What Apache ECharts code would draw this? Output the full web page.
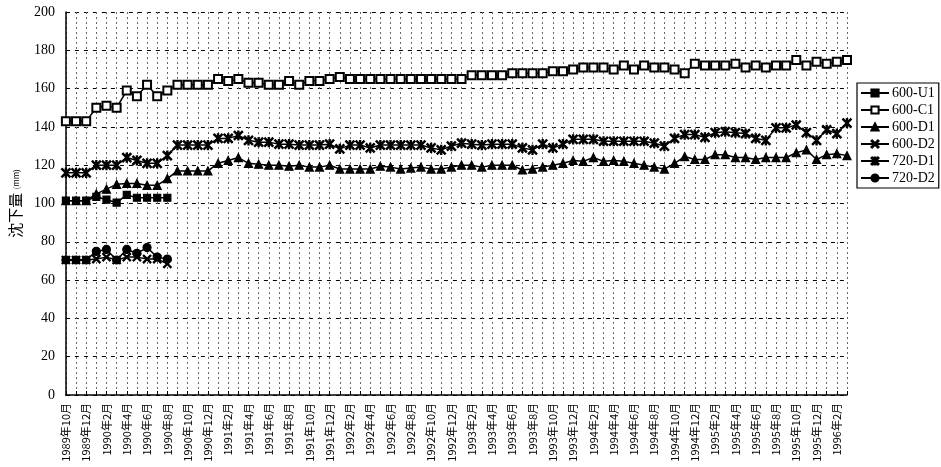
<!DOCTYPE html>
<html><head><meta charset="utf-8">
<script src="https://cdn.jsdelivr.net/npm/echarts@6/dist/echarts.min.js"></script>
<style>html,body{margin:0;padding:0;background:#fff}#c{width:941px;height:467px}</style>
</head><body><div id="c"></div>
<script>
const categories = [
'1989年10月','1989年11月','1989年12月',
'1990年1月','1990年2月','1990年3月','1990年4月','1990年5月','1990年6月','1990年7月','1990年8月','1990年9月','1990年10月','1990年11月','1990年12月',
'1991年1月','1991年2月','1991年3月','1991年4月','1991年5月','1991年6月','1991年7月','1991年8月','1991年9月','1991年10月','1991年11月','1991年12月',
'1992年1月','1992年2月','1992年3月','1992年4月','1992年5月','1992年6月','1992年7月','1992年8月','1992年9月','1992年10月','1992年11月','1992年12月',
'1993年1月','1993年2月','1993年3月','1993年4月','1993年5月','1993年6月','1993年7月','1993年8月','1993年9月','1993年10月','1993年11月','1993年12月',
'1994年1月','1994年2月','1994年3月','1994年4月','1994年5月','1994年6月','1994年7月','1994年8月','1994年9月','1994年10月','1994年11月','1994年12月',
'1995年1月','1995年2月','1995年3月','1995年4月','1995年5月','1995年6月','1995年7月','1995年8月','1995年9月','1995年10月','1995年11月','1995年12月',
'1996年1月','1996年2月','1996年3月'];

const s600U1 = [101.5,101.5,101.5,103.5,102,100.5,104.5,103,103,103,103];
const s600C1 = [143,143,143,150,151,150,159,156,162,156,159,
162,162,162,162,165,164,165,163,163,
162,162,164,162,164,164,165,166,
165,165,165,165,165,165,165,165,165,165,165,165,
167,167,167,167,168,168,168,168,
169,169,170,171,171,171,170,172,170,172,171,171,170,168,
173,172,172,172,173,171,172,171,172,172,
175,172,174,173,174,175];
const s600D1 = [101.5,101.5,101.5,105,107.5,110,110.5,110.5,109.5,109.5,113,117,117,117,117,
121,122.5,124,121,120.5,120,120,119.5,120,119,119,120,
118,118,118,118,119.5,119,118,118.5,119,118,118,119,120,
120,119,120,120,120,117.5,118,119,120,121,122.5,122,124,122,
122.5,122,121,120,119,118,121,124.5,123,123,125.5,125.5,124,
124,123,124,124,124,126.5,128,123,125.5,126,125];
const s600D2 = [70.5,70.5,70.5,71,72,70.5,72,72,71,71,68.5];
const s720D1 = [116,116,116,120,120,120,124,122.5,121,121,125,130.5,130.5,130.5,130.5,
134,134,135.5,133,132,132,131,131,130.5,130.5,130.5,131,
128.5,130.5,130.5,129,130.5,130.5,130.5,130.5,130.5,129,128,130,131.5,
131,130.5,131,131,131,129,128,131,129,131,133.5,133.5,133.5,132.5,
132.5,132.5,132.5,132.5,131.5,130,134,136,136,134.5,137,137.5,137,
136.5,134,133,139.5,139.5,141,137,133,138.5,136.5,142];
const s720D2 = [70.5,70.5,70.5,75,76,70.5,76,74,77,72,71];
const yTicks = [0,20,40,60,80,100,120,140,160,180,200];

const crossPath = 'path://M0,1L1,0L5,4L9,0L10,1L6,5L10,9L9,10L5,6L1,10L0,9L4,5Z';
const starPath = 'path://M0,1L1,0L5,4L9,0L10,1L6,5L10,9L9,10L5,6L1,10L0,9L4,5Z M4.35,0L5.65,0L5.65,10L4.35,10Z';

function mk(name, data, symbol, size) {
  return {
    name: name, type: 'line', data: data, symbol: symbol, symbolSize: size,
    showSymbol: true, showAllSymbol: true, connectNulls: false, animation: false,
    lineStyle: {color: '#000', width: 1.5},
    itemStyle: {color: '#000', borderColor: '#000', borderWidth: 1.2}
  };
}

const chart = echarts.init(document.getElementById('c'), null, {renderer: 'canvas'});
chart.setOption({
  backgroundColor: '#fff',
  animation: false,
  grid: {left: 59, top: 12, width: 788, height: 383, containLabel: false},
  xAxis: {
    type: 'category', data: categories, boundaryGap: false,
    axisLine: {lineStyle: {color: '#000', width: 1.5}},
    axisTick: {show: true, inside: true, length: 4, interval: 0, lineStyle: {color: '#000'}},
    axisLabel: {interval: 1, rotate: 90, margin: 8, fontSize: 11, color: '#000',
      fontFamily: 'Noto Sans CJK JP'},
    splitLine: {show: true, interval: 0, lineStyle: {color: '#666', width: 1, type: [2, 3]}}
  },
  yAxis: {
    type: 'value', min: yTicks[0], max: yTicks[yTicks.length - 1], interval: 20,
    name: '{a|沈下量} {b|(mm)}', nameLocation: 'middle', nameRotate: 90, nameGap: 34,
    nameTextStyle: {rich: {
      a: {fontSize: 15, fontFamily: 'Noto Sans CJK JP', color: '#000'},
      b: {fontSize: 8, fontFamily: 'Noto Sans CJK JP', color: '#000'}}},
    axisLine: {show: true, lineStyle: {color: '#000', width: 1.5}},
    axisTick: {show: true, inside: true, length: 4, lineStyle: {color: '#000'}},
    axisLabel: {fontSize: 14, color: '#000', fontFamily: 'Liberation Serif', margin: 11},
    splitLine: {show: true, lineStyle: {color: '#000', width: 1, type: [4, 5]}}
  },
  legend: {
    orient: 'vertical', left: 857, top: 83,
    itemWidth: 28, itemHeight: 9, itemGap: 3,
    padding: [3, 4, 3, 3],
    borderColor: '#000', borderWidth: 1.2,
    textStyle: {fontSize: 14, lineHeight: 14, fontFamily: 'Liberation Serif', color: '#000', padding: [0,0,0,-2]},
    data: ['600-U1','600-C1','600-D1','600-D2','720-D1','720-D2']
  },
  series: [
    mk('600-U1', s600U1, 'rect', 7),
    mk('600-C1', s600C1, 'emptyRect', 8),
    mk('600-D1', s600D1, 'triangle', 8),
    mk('600-D2', s600D2, crossPath, 8),
    mk('720-D1', s720D1, starPath, 9),
    mk('720-D2', s720D2, 'circle', 8)
  ]
});
</script>
</body></html>
